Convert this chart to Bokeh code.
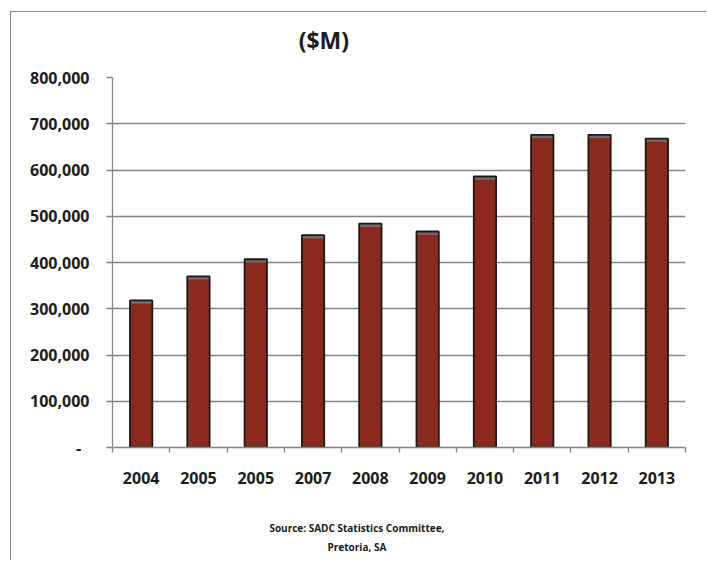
import numpy as np
from bokeh.plotting import figure
from bokeh.models import (Range1d, FixedTicker, CustomJSTickFormatter, LinearAxis,
                          ColumnDataSource)
from bokeh.embed import file_html
from bokeh.resources import INLINE

# Annual values, $M
years = ["2004", "2005", "2005", "2007", "2008", "2009", "2010", "2011", "2012", "2013"]
values = [318000, 370000, 407000, 459000, 484000, 467000, 586000, 676000, 676000, 668000]
y_ticks = [0, 100000, 200000, 300000, 400000, 500000, 600000, 700000, 800000]
title_text = "($M)"
source_lines = ["Source: SADC Statistics Committee,", "Pretoria, SA"]

FONT = "Open Sans"
BAR = "#8a2a1f"
CAP = "#6e6e6e"
GRID = "#858585"
INK = "#1c1c1c"
FRAME = "1.5px solid #8a8a8a"

n = len(years)
centers = np.arange(n) + 0.5
cap = 7000  # depth of the shaded top face, in data units

src = ColumnDataSource(dict(x=centers, top=values,
                            cap_bottom=[v - cap for v in values]))

p = figure(width=696, height=549, output_backend="svg", toolbar_location=None,
           x_range=Range1d(0, n), y_range=Range1d(y_ticks[0], y_ticks[-1]),
           min_border_left=101, min_border_right=22,
           min_border_top=65, min_border_bottom=114)
# thin frame along the top and left edge of the chart box
p.styles = {"margin-left": "10px", "margin-top": "11px",
            "border-left": FRAME, "border-top": FRAME}
p.background_fill_color = "white"
p.border_fill_color = "white"
p.outline_line_color = None

# bars: red body, grey top face, dark outline
p.vbar(x="x", top="top", bottom=0, width=0.39, source=src,
       fill_color=BAR, line_color=None)
p.vbar(x="x", top="top", bottom="cap_bottom", width=0.39, source=src,
       fill_color=CAP, line_color=None)
p.vbar(x="x", top="top", bottom=0, width=0.39, source=src,
       fill_color=None, line_color="#1a1a1a", line_width=1.8)

# y axis
p.yaxis.ticker = FixedTicker(ticks=y_ticks)
p.yaxis.formatter = CustomJSTickFormatter(code="""
    return tick == 0 ? "-\\u00a0\\u00a0" : Math.round(tick).toLocaleString("en-US");
""")
p.yaxis.axis_line_color = GRID
p.yaxis.axis_line_width = 1.3
p.yaxis.major_tick_line_color = GRID
p.yaxis.major_tick_line_width = 1.3
p.yaxis.major_tick_out = 6
p.yaxis.major_tick_in = 0
p.yaxis.minor_tick_line_color = None
p.yaxis.major_label_standoff = 17
p.yaxis.major_label_text_font = FONT
p.yaxis.major_label_text_font_style = "bold"
p.yaxis.major_label_text_font_size = "16px"
p.yaxis.major_label_text_color = INK

# x axis: labels at bar centres, tick marks at category boundaries
p.xaxis.ticker = FixedTicker(ticks=list(centers), minor_ticks=list(range(n + 1)))
p.xaxis.formatter = CustomJSTickFormatter(args=dict(labels=years),
                                          code="return labels[Math.floor(tick)];")
p.xaxis.axis_line_color = GRID
p.xaxis.axis_line_width = 1.3
p.xaxis.major_tick_line_color = None
p.xaxis.minor_tick_line_color = GRID
p.xaxis.minor_tick_line_width = 1.3
p.xaxis.minor_tick_out = 5
p.xaxis.minor_tick_in = 0
p.xaxis.major_label_standoff = 18
p.xaxis.major_label_text_font = FONT
p.xaxis.major_label_text_font_style = "bold"
p.xaxis.major_label_text_font_size = "16px"
p.xaxis.major_label_text_color = INK

p.xgrid.grid_line_color = None
p.ygrid.grid_line_color = GRID
p.ygrid.grid_line_width = 1.3


def text_axis(text, px, size, gap):
    """A bare axis whose single label carries a line of text at pixel column px."""
    return LinearAxis(ticker=FixedTicker(ticks=[(px - 113) / (572 / n)]),
                      formatter=CustomJSTickFormatter(args=dict(t=text),
                                                      code="return t;"),
                      axis_line_color=None, major_tick_line_color=None,
                      minor_tick_line_color=None, major_tick_out=0,
                      major_tick_in=0, major_label_standoff=gap,
                      major_label_text_font=FONT,
                      major_label_text_font_style="bold",
                      major_label_text_font_size=size,
                      major_label_text_color=INK)


# heading above the plot area
p.add_layout(text_axis(title_text, 324, "23px", 22), "above")

# source note under the year labels
for line, gap in zip(source_lines, [34, 2]):
    p.add_layout(text_axis(line, 357, "10px", gap), "below")

open("out.html", "w").write(file_html(p, INLINE))
